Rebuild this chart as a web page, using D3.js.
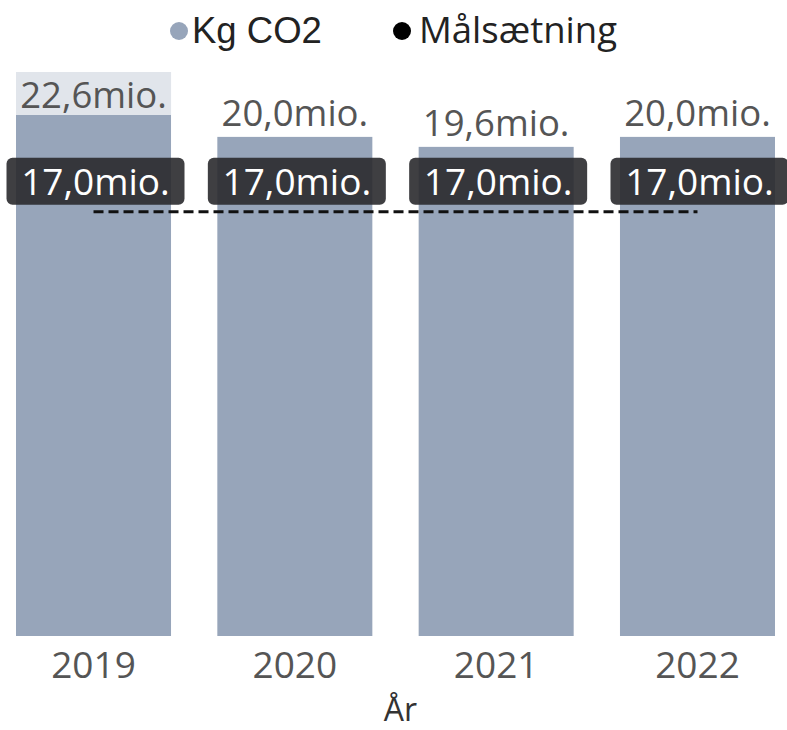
<!DOCTYPE html>
<html>
<head>
<meta charset="utf-8">
<script src="https://cdn.jsdelivr.net/npm/d3@7"></script>
<style>
  html, body { margin: 0; padding: 0; background: #fff; }
  svg { display: block; }
</style>
</head>
<body>
<svg id="chart" width="787" height="730"></svg>
<script>
// data
const years = ["2019", "2020", "2021", "2022"];
const kgCO2 = [22.6, 20.0, 19.6, 20.0];      // mio.
const target = [17.0, 17.0, 17.0, 17.0];     // Målsætning, mio.
const legendLabels = ["Kg CO2", "Målsætning"];

const W = 787, H = 730;
const plot = { left: 16, right: 775, top: 72, bottom: 636 };
const font = "'Open Sans', 'Noto Sans', sans-serif";
const barColor = "#97a5ba";

const fmt = v => d3.format(".1f")(v).replace(".", ",") + "mio.";

const svg = d3.select("#chart");

const x = d3.scaleBand()
  .domain(years)
  .range([plot.left, plot.right])
  .paddingInner(0.23)
  .paddingOuter(0);

const y = d3.scaleLinear()
  .domain([0, d3.max(kgCO2)])
  .range([plot.bottom, plot.top]);

// Bars
const bars = svg.selectAll(".bar")
  .data(years.map((yr, i) => ({ yr, v: kgCO2[i] })))
  .enter()
  .append("g")
  .attr("class", "bar");

bars.append("rect")
  .attr("x", d => x(d.yr))
  .attr("y", d => y(d.v))
  .attr("width", x.bandwidth())
  .attr("height", d => y(0) - y(d.v))
  .attr("fill", barColor);

// Value labels: above the bar, or inside with a light background when no room
bars.each(function(d) {
  const g = d3.select(this);
  const inside = y(d.v) - 50 < 60;
  if (inside) {
    g.append("rect")
      .attr("x", x(d.yr))
      .attr("y", y(d.v))
      .attr("width", x.bandwidth())
      .attr("height", 43)
      .attr("fill", "#e1e5eb");
  }
  g.append("text")
    .attr("x", x(d.yr) + x.bandwidth() / 2)
    .attr("y", inside ? y(d.v) + 36 : y(d.v) - 11)
    .attr("text-anchor", "middle")
    .attr("fill", "#555")
    .attr("font-size", "36.5px")
    .attr("font-family", font)
    .text(fmt(d.v));
});

// Target dashed line
const line = d3.line()
  .x(d => x(d.yr) + x.bandwidth() / 2)
  .y(d => y(d.v));

svg.append("path")
  .datum(years.map((yr, i) => ({ yr, v: target[i] })))
  .attr("d", line)
  .attr("fill", "none")
  .attr("stroke", "#111")
  .attr("stroke-width", 3)
  .attr("stroke-dasharray", "10,5");

// Target labels
const tLabels = svg.selectAll(".tlabel")
  .data(years.map((yr, i) => ({ yr, v: target[i] })))
  .enter()
  .append("g")
  .attr("class", "tlabel")
  .attr("transform", d =>
    `translate(${x(d.yr) + x.bandwidth() / 2 + 2}, ${y(d.v) - 31})`
  );

tLabels.append("rect")
  .attr("x", -89)
  .attr("y", -23)
  .attr("width", 178)
  .attr("height", 47)
  .attr("rx", 6)
  .attr("fill", "#2a2a2d")
  .attr("opacity", 0.9);

tLabels.append("text")
  .attr("y", 14)
  .attr("text-anchor", "middle")
  .attr("fill", "#fff")
  .attr("font-size", "37px")
  .attr("font-family", font)
  .text(d => fmt(d.v));

// X axis
const xAxis = svg.append("g")
  .attr("transform", `translate(0, ${plot.bottom})`)
  .call(d3.axisBottom(x).tickSize(0).tickPadding(16));
xAxis.select(".domain").remove();
xAxis.selectAll("text")
  .attr("fill", "#555")
  .attr("font-size", "37px")
  .attr("font-family", font);

svg.append("text")
  .attr("x", (plot.left + plot.right) / 2 + 5)
  .attr("y", 721)
  .attr("text-anchor", "middle")
  .attr("fill", "#333")
  .attr("font-size", "32px")
  .attr("font-family", font)
  .text("År");

// Legend
const legend = [
  { label: legendLabels[0], color: barColor, cx: 179, tx: 192, ff: "'Liberation Sans', Arial, sans-serif" },
  { label: legendLabels[1], color: "#000", cx: 402, tx: 419, ff: font }
];
const lg = svg.selectAll(".legend")
  .data(legend)
  .enter()
  .append("g")
  .attr("class", "legend");

lg.append("circle")
  .attr("cx", d => d.cx)
  .attr("cy", 31)
  .attr("r", 9)
  .attr("fill", d => d.color);

lg.append("text")
  .attr("x", d => d.tx)
  .attr("y", 43)
  .attr("fill", "#222")
  .attr("font-size", "36.5px")
  .attr("font-family", d => d.ff)
  .text(d => d.label);
</script>
</body>
</html>
